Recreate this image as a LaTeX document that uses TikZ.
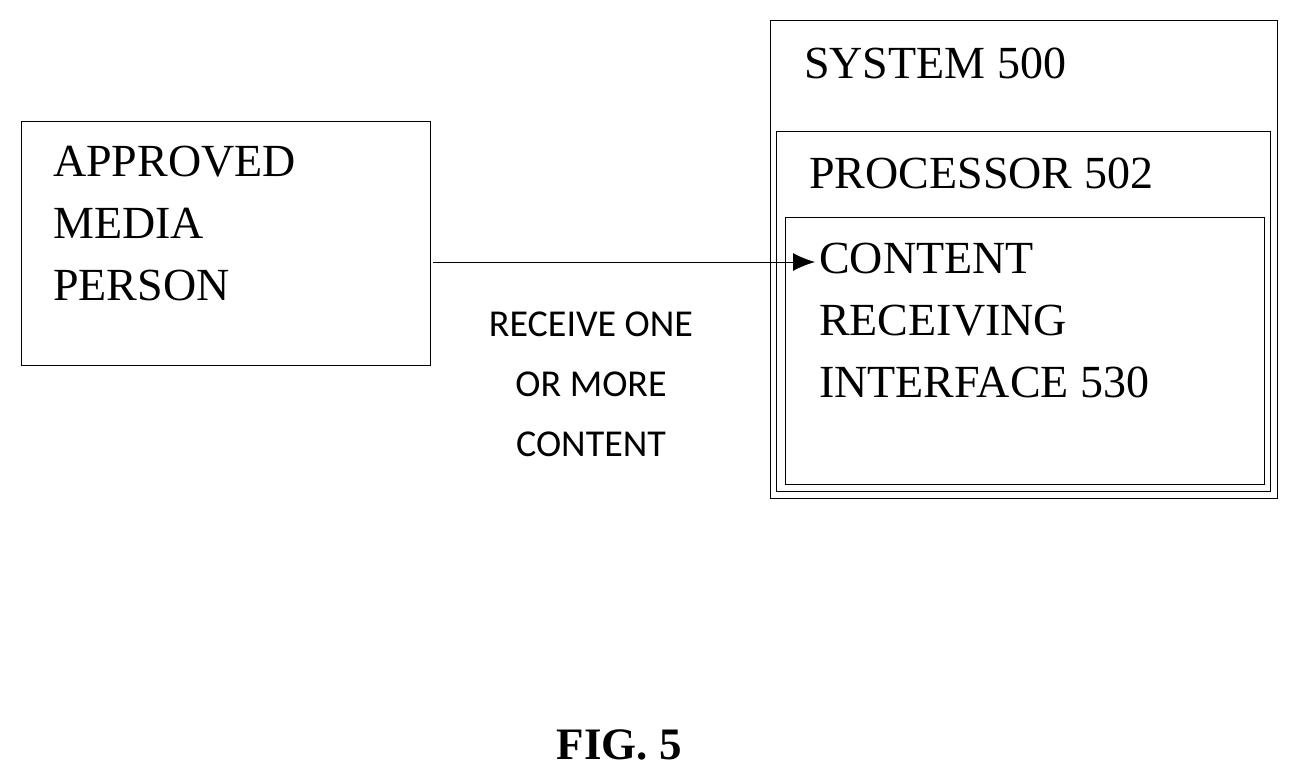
\documentclass[tikz,border=0pt]{standalone}
\usetikzlibrary{arrows.meta}
\usepackage{fontspec}
\setmainfont{Liberation Serif}
\newfontfamily\labfont{Carlito}
\begin{document}
\begin{tikzpicture}[x=1pt,y=-1pt,
  box/.style={draw,line width=1.3pt},
  txt/.style={anchor=north west,inner sep=0pt,align=left,font=\fontsize{46}{62}\selectfont}]
\useasboundingbox (0,0) rectangle (1298,782);
\node[box,minimum width=409,minimum height=244,anchor=north west,inner sep=0] (amp) at (21,121) {};
\node[txt] (ampt) at (53,146) {APPROVED\\MEDIA\\PERSON};
\node[box,minimum width=507,minimum height=478,anchor=north west,inner sep=0] (sys) at (770,20) {};
\node[txt] (syst) at (804,48) {SYSTEM 500};
\node[box,minimum width=494,minimum height=360,anchor=north west,inner sep=0] (proc) at (776,131) {};
\node[txt] (proct) at (809,158) {PROCESSOR 502};
\node[box,minimum width=479,minimum height=267,anchor=north west,inner sep=0] (cri) at (785,217) {};
\node[txt] (crit) at (819,243) {CONTENT\\RECEIVING\\INTERFACE 530};
\coordinate (tip) at (815,262);
\draw[line width=1pt,-{Latex[length=22pt,width=18pt]}] (amp.east |- tip) ++(2,0) coordinate (st) -- (tip);
\node[font=\labfont\fontsize{38}{60}\selectfont,align=center,anchor=north] (lab) at (591,308) {RECEIVE ONE\\OR MORE\\CONTENT};
\node[font=\bfseries\fontsize{45}{50}\selectfont] (fig) at (619,745) {FIG. 5};
\end{tikzpicture}
\end{document}
